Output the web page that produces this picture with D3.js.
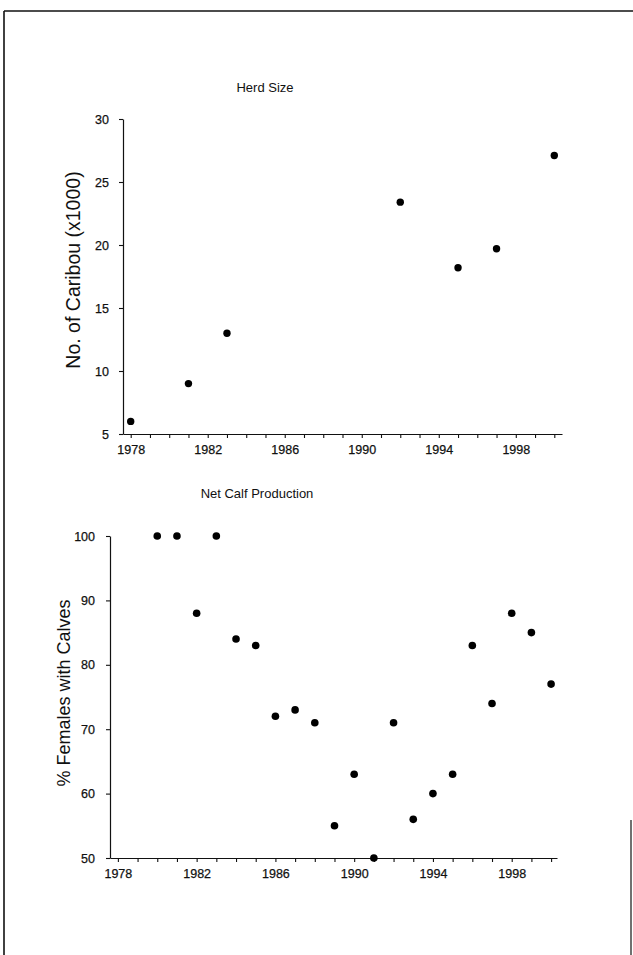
<!DOCTYPE html>
<html><head><meta charset="utf-8">
<script src="https://cdn.jsdelivr.net/npm/d3@7"></script>
<style>
body{margin:0;background:#fff;}
svg{display:block;}
text{font-family:"Liberation Sans",Arial,sans-serif;fill:#111;}
</style></head>
<body><svg id="c" width="633" height="955"></svg>
<script>
// Herd size data
const herdYears = [1978, 1981, 1983, 1992, 1995, 1997, 2000];
const herdValues = [6, 9, 13, 23.4, 18.2, 19.7, 27.1];
// Net calf production data
const calfYears = [1980,1981,1982,1983,1984,1985,1986,1987,1988,1989,1990,1991,1992,1993,1994,1995,1996,1997,1998,1999,2000];
const calfValues = [100,100,88,100,84,83,72,73,71,55,63,50,71,56,60,63,83,74,88,85,77];
// Tick labels
const xTickYears = [1978,1979,1980,1981,1982,1983,1984,1985,1986,1987,1988,1989,1990,1991,1992,1993,1994,1995,1996,1997,1998,1999,2000];
const xLabelYears = [1978,1982,1986,1990,1994,1998];
const herdYTicks = [5,10,15,20,25,30];
const calfYTicks = [50,60,70,80,90,100];

const svg = d3.select("#c");

// frame
svg.append("line").attr("x1",4).attr("x2",4).attr("y1",11).attr("y2",955).attr("stroke","#111").attr("stroke-width",1.6);
svg.append("line").attr("x1",4).attr("x2",633).attr("y1",11).attr("y2",11).attr("stroke","#111").attr("stroke-width",1.6);
svg.append("line").attr("x1",631).attr("x2",631).attr("y1",820).attr("y2",955).attr("stroke","#111").attr("stroke-width",1.2);

function panel(opts){
  const x = d3.scaleLinear().domain(opts.xDomain).range(opts.xRange);
  const y = d3.scaleLinear().domain(opts.yDomain).range(opts.yRange);
  const g = svg.append("g");
  const xa = g.append("g").attr("transform",`translate(0,${opts.yRange[0]})`)
    .call(d3.axisBottom(x).tickValues(xTickYears).tickSize(4).tickSizeOuter(0).tickPadding(4)
      .tickFormat(d => xLabelYears.includes(d) ? String(d) : ""));
  const ya = g.append("g").attr("transform",`translate(${opts.xRange[0]},0)`)
    .call(d3.axisLeft(y).tickValues(opts.yTicks).tickSize(4).tickSizeOuter(0).tickPadding(opts.yPad));
  [xa,ya].forEach(a=>{
    a.selectAll("path").attr("stroke","#111").attr("stroke-width",1.2);
    a.selectAll("line").attr("stroke","#111").attr("stroke-width",1.1);
    a.selectAll("text").attr("font-size",12.5).attr("fill","#111")
      .attr("stroke","#111").attr("stroke-width",0.25)
      .style("font-family","'Liberation Sans',Arial,sans-serif");
  });
  xa.selectAll("text").attr("dy","0.95em");
  g.selectAll("circle.pt").data(opts.years.map((d,i)=>({yr:d,v:opts.values[i]})))
    .join("circle").attr("class","pt")
    .attr("cx",d=>x(d.yr)).attr("cy",d=>y(d.v)).attr("r",opts.r).attr("fill","#000");
  g.append("text").attr("x",opts.titleX).attr("y",opts.titleY).attr("text-anchor","middle")
    .attr("font-size",13).text(opts.title);
  g.append("text").attr("transform",`translate(${opts.labelX},${opts.labelY}) rotate(-90)`)
    .attr("text-anchor","middle").attr("font-size",opts.labelSize).text(opts.ylabel);
}

panel({xDomain:[1977.6,2000.4], xRange:[123,562], yDomain:[5,30], yRange:[434,119],
  years:herdYears, values:herdValues, yTicks:herdYTicks, yPad:10, r:3.7,
  title:"Herd Size", titleX:265, titleY:92, ylabel:"No. of Caribou (x1000)", labelX:80, labelY:270, labelSize:19.5});

panel({xDomain:[1977.6,2000.3], xRange:[110,557], yDomain:[50,100], yRange:[858,536],
  years:calfYears, values:calfValues, yTicks:calfYTicks, yPad:11, r:3.8,
  title:"Net Calf Production", titleX:257, titleY:498, ylabel:"% Females with Calves", labelX:70, labelY:693, labelSize:18});
</script></body></html>
